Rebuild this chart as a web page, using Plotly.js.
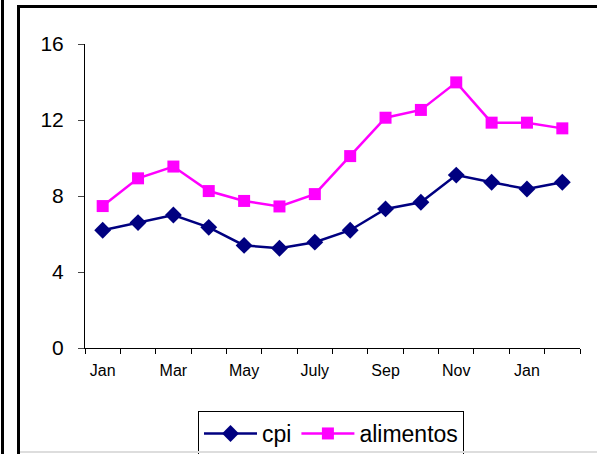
<!DOCTYPE html>
<html>
<head>
<meta charset="utf-8">
<script src="https://cdn.plot.ly/plotly-3.0.1.min.js"></script>
<style>
html,body{margin:0;padding:0;background:#fff;overflow:hidden;}
#wrap{position:relative;width:597px;height:454px;overflow:hidden;}
#chart{position:absolute;left:0;top:0;width:597px;height:454px;}
.deco{position:absolute;pointer-events:none;z-index:10;}
#outer{left:1px;top:0;width:3px;height:454px;background:#000;}
#frameLeft{left:17px;top:5px;width:3px;height:449px;background:#000;}
#frameTop{left:17px;top:5px;width:580px;height:3px;background:#000;}
#bottomrule{left:20px;top:451px;width:577px;height:2px;background:#ddd;}
</style>
</head>
<body>
<div id="wrap">
<div id="chart"></div>
<div class="deco" id="outer"></div>
<div class="deco" id="frameLeft"></div>
<div class="deco" id="frameTop"></div>
<div class="deco" id="bottomrule"></div>
</div>
<script>
var months = ["Jan","Feb","Mar","Apr","May","June","July","Aug","Sep","Oct","Nov","Dec","Jan","Feb"];
var cpi = [6.2, 6.6, 7.0, 6.35, 5.4, 5.25, 5.57, 6.2, 7.32, 7.67, 9.1, 8.72, 8.37, 8.72];
var alimentos = [7.47, 8.93, 9.55, 8.26, 7.74, 7.45, 8.1, 10.1, 12.12, 12.53, 13.98, 11.86, 11.86, 11.56];
var yTicks = [0, 4, 8, 12, 16];

var xIdx = months.map(function(m, i){ return i; });
var labelIdx = xIdx.filter(function(i){ return i % 2 === 0; });
var labelText = labelIdx.map(function(i){ return months[i]; });
var boundaries = [];
for (var b = 0; b <= months.length; b++) boundaries.push(b - 0.5);

var W = 597, H = 454;

var traces = [
  {x: xIdx, y: cpi, name: "cpi", type: "scatter", mode: "lines+markers",
   line: {color: "#000080", width: 2.5},
   marker: {symbol: "diamond", size: 13, color: "#000080"}},
  {x: xIdx, y: alimentos, name: "alimentos", type: "scatter", mode: "lines+markers",
   line: {color: "#FF00FF", width: 2.5},
   marker: {symbol: "square", size: 12, color: "#FF00FF"}}
];

var layout = {
  width: W, height: H,
  margin: {l: 85, r: 17, t: 44, b: 106, pad: 0, autoexpand: false},
  paper_bgcolor: "rgba(0,0,0,0)", plot_bgcolor: "rgba(0,0,0,0)",
  font: {family: "Liberation Sans, Arial, sans-serif", color: "#000"},
  showlegend: true,
  legend: {orientation: "h", xref: "container", yref: "container",
           x: 198 / W, y: 1 - 411 / H, xanchor: "left", yanchor: "top",
           bordercolor: "#000", borderwidth: 1, bgcolor: "#fff",
           font: {size: 23, color: "#000"}, itemwidth: 53, tracegroupgap: 0},
  xaxis: {range: [-0.5, months.length - 0.5], tickmode: "array", tickvals: labelIdx, ticktext: labelText,
          ticks: "", showgrid: false, zeroline: false, showline: true, linecolor: "#000", linewidth: 1,
          tickfont: {size: 16, color: "#000"}, ticklabelstandoff: 8,
          minor: {tickmode: "array", tickvals: boundaries, ticks: "outside", ticklen: 5, tickcolor: "#000", showgrid: false}},
  yaxis: {range: [0, 16], tickmode: "array", tickvals: yTicks, ticks: "outside", ticklen: 6, tickcolor: "#444",
          showgrid: false, zeroline: false, showline: true, linecolor: "#000", linewidth: 1,
          tickfont: {size: 21, color: "#000"}, ticklabelstandoff: 10}
};

Plotly.newPlot("chart", traces, layout, {displayModeBar: false, staticPlot: true});
</script>
</body>
</html>
